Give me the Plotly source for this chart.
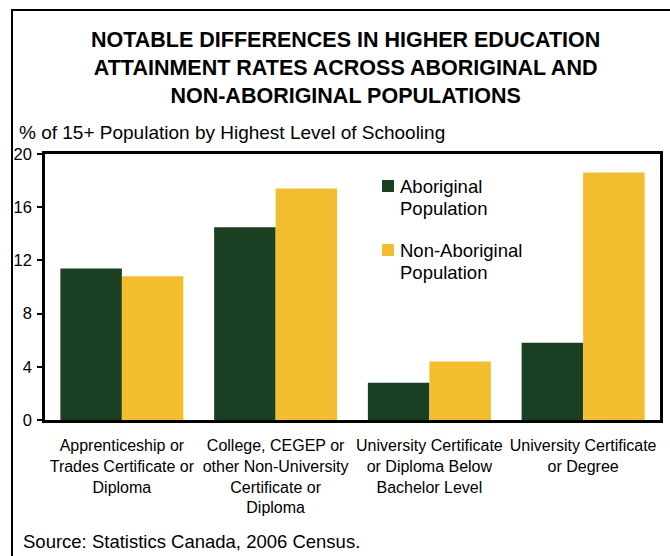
import plotly.graph_objects as go

categories = [
    "Apprenticeship or<br>Trades Certificate or<br>Diploma",
    "College, CEGEP or<br>other Non-University<br>Certificate or<br>Diploma",
    "University Certificate<br>or Diploma Below<br>Bachelor Level",
    "University Certificate<br>or Degree",
]
series_names = ["Aboriginal<br>Population", "Non-Aboriginal<br>Population"]
aboriginal = [11.4, 14.5, 2.8, 5.8]
non_aboriginal = [10.8, 17.4, 4.4, 18.6]
y_ticks = [0, 4, 8, 12, 16, 20]
colors = ["#1B3F22", "#F2BE30"]

FONT = "Liberation Sans, Arial, sans-serif"
W, H = 670, 556
L, R, T, B = 45, 10, 154, 136
pw, ph = W - L - R, H - T - B

def px(x):
    return (x - L) / pw

def py(y):
    return (H - B - y) / ph

fig = go.Figure()
for name, vals, col in zip(series_names, [aboriginal, non_aboriginal], colors):
    fig.add_trace(go.Bar(x=categories, y=vals, name=name, showlegend=False,
                         marker=dict(color=col, line=dict(width=0))))

fig.update_layout(
    width=W, height=H,
    margin=dict(l=L, r=R, t=T, b=B, autoexpand=False),
    paper_bgcolor="white", plot_bgcolor="white",
    font=dict(family=FONT, color="black", size=16),
    barmode="group", bargap=0.2, bargroupgap=0,
    xaxis=dict(showline=True, linecolor="black", linewidth=2.5, mirror=True,
               ticks="", tickfont=dict(size=16), ticklabelstandoff=9, fixedrange=True),
    yaxis=dict(range=[0, 20], tickvals=y_ticks, showline=True, linecolor="black",
               linewidth=2.5, mirror=True, ticks="outside", ticklen=5, tickwidth=1.5,
               tickcolor="black", showgrid=False, zeroline=False,
               tickfont=dict(size=16.5), ticklabelstandoff=2),
)

# manual legend (each text line placed separately for tighter line spacing)
leg_y = [186, 250]
for name, col, yc in zip(series_names, colors, leg_y):
    fig.add_shape(type="rect", xref="paper", yref="paper",
                  x0=px(382), x1=px(394), y0=py(yc - 6), y1=py(yc + 6),
                  fillcolor=col, line=dict(width=0))
    for i, line in enumerate(name.split("<br>")):
        fig.add_annotation(text=line, xref="paper", yref="paper", x=px(398), y=py(yc + 22 * i),
                           xanchor="left", yanchor="middle", showarrow=False, align="left",
                           font=dict(size=18.5))

fig.add_annotation(
    text="<b>NOTABLE DIFFERENCES IN HIGHER EDUCATION<br>ATTAINMENT RATES ACROSS ABORIGINAL AND<br>NON-ABORIGINAL POPULATIONS</b>",
    xref="paper", yref="paper", x=px(345), y=py(68), xanchor="center", yanchor="middle",
    showarrow=False, font=dict(size=21.5), align="center")
fig.add_annotation(
    text="% of 15+ Population by Highest Level of Schooling",
    xref="paper", yref="paper", x=px(17), y=py(132), xanchor="left", yanchor="middle",
    showarrow=False, font=dict(size=19))
fig.add_annotation(
    text="Source: Statistics Canada, 2006 Census.",
    xref="paper", yref="paper", x=px(21), y=py(541), xanchor="left", yanchor="middle",
    showarrow=False, font=dict(size=18.5))

# outer frame (left and top)
fig.add_shape(type="line", xref="paper", yref="paper", x0=px(12), x1=px(12), y0=py(10), y1=py(560),
              line=dict(color="black", width=2))
fig.add_shape(type="line", xref="paper", yref="paper", x0=px(11), x1=px(672), y0=py(10), y1=py(10),
              line=dict(color="black", width=2))

fig.write_html("out.html", config={"displayModeBar": False},
               post_script="document.body.style.margin='0';document.body.style.overflow='hidden';")
